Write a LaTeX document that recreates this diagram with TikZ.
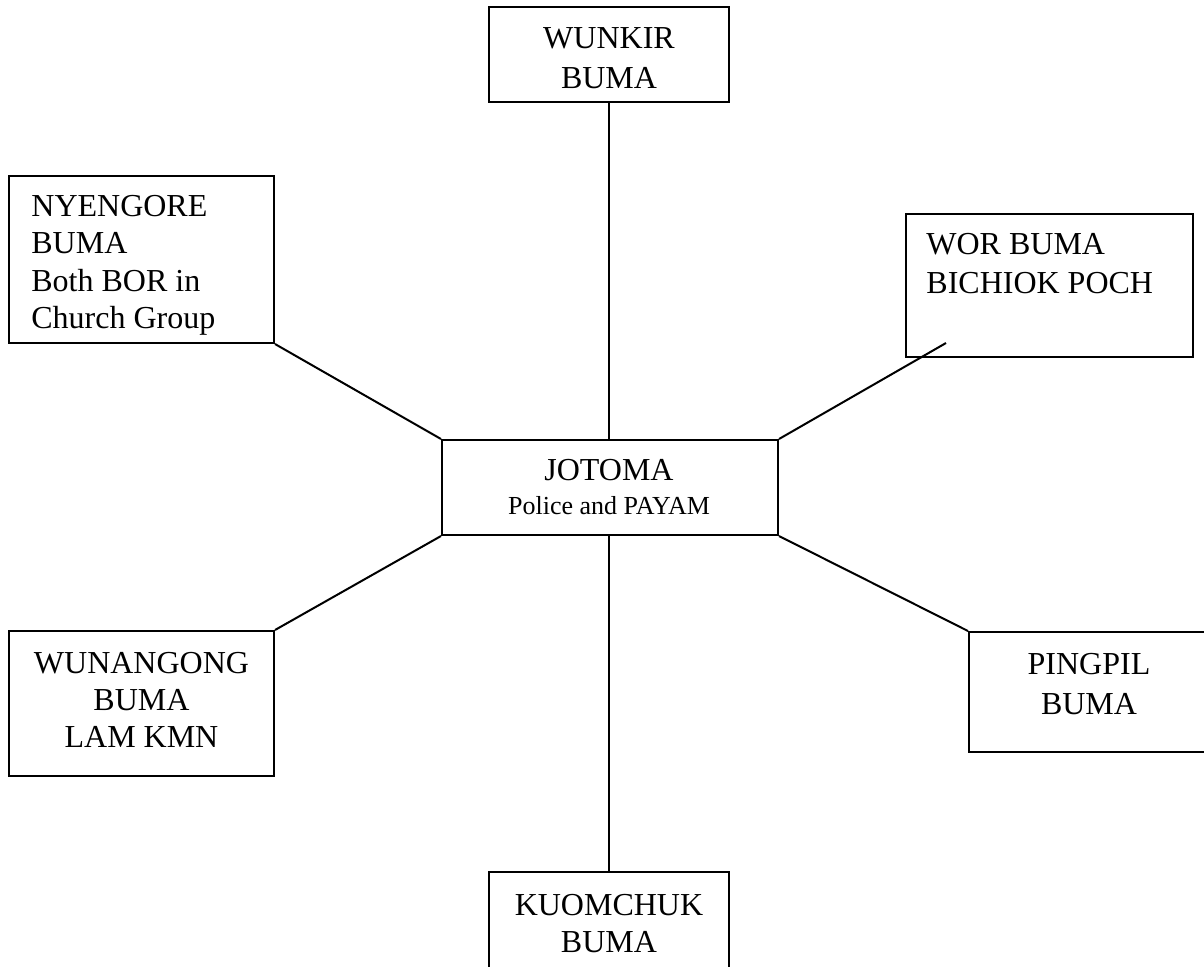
\documentclass[tikz,border=0pt]{standalone}
\usepackage{fontspec}
\setmainfont{Liberation Serif}
\begin{document}
\begin{tikzpicture}[x=0.5pt,y=-0.5pt,
  box/.style={draw, line width=1pt, inner sep=0pt, minimum width=#1},
  link/.style={line width=1pt},
  txt/.style={inner sep=0pt, font=\fontsize{16}{20}\selectfont},
  txtc/.style={txt, anchor=north, align=center},
  txtl/.style={txt, anchor=north west, align=left}]
\useasboundingbox (0,0) rectangle (1204,966);
\clip (0,0) rectangle (1204,966);

% boxes
\node[box=120pt, minimum height=47.5pt] (wunkir) at (609,54.5) {};
\node[box=132.5pt, minimum height=83.5pt] (nyengore) at (141.5,259.5) {};
\node[box=143.5pt, minimum height=71.5pt] (wor) at (1049.5,285.5) {};
\node[box=168pt, minimum height=47.5pt] (jotoma) at (610,487.5) {};
\node[box=132.5pt, minimum height=72.5pt] (wunangong) at (141.5,703.5) {};
\node[box=120pt, minimum height=60pt] (pingpil) at (1089,692) {};
\node[box=120pt, minimum height=54pt] (kuomchuk) at (609,926) {};

% labels
\node[txtc] (wunkir-t) at (609,27) {WUNKIR\\BUMA};
\node[txtl, font=\fontsize{16}{18.65}\selectfont] (nyengore-t) at (31,195)
  {NYENGORE\\BUMA\\Both BOR in\\Church Group};
\node[txtl, font=\fontsize{16}{19.5}\selectfont] (wor-t) at (926,233)
  {WOR BUMA\\BICHIOK POCH};
\node[txtc, font=\fontsize{16}{17}\selectfont] (jotoma-t) at (609,459)
  {JOTOMA\\{\fontsize{13}{17}\selectfont Police and PAYAM}};
\node[txtc, font=\fontsize{16}{18.5}\selectfont] (wunangong-t) at (141.5,652)
  {WUNANGONG\\BUMA\\LAM KMN};
\node[txtc] (pingpil-t) at (1089,653) {PINGPIL\\BUMA};
\node[txtc, font=\fontsize{16}{18.5}\selectfont] (kuomchuk-t) at (609,894)
  {KUOMCHUK\\BUMA};

% connectors
\coordinate (wortip) at (946,343);
\draw[link] (wunkir.south) -- (wunkir.south |- jotoma.north);
\draw[link] (nyengore.south east) -- (jotoma.north west);
\draw[link] (jotoma.north east) -- (wortip);
\draw[link] (jotoma.south west) -- (wunangong.north east);
\draw[link] (jotoma.south east) -- (pingpil.north west);
\draw[link] (jotoma.south -| kuomchuk.north) -- (kuomchuk.north);
\end{tikzpicture}
\end{document}
